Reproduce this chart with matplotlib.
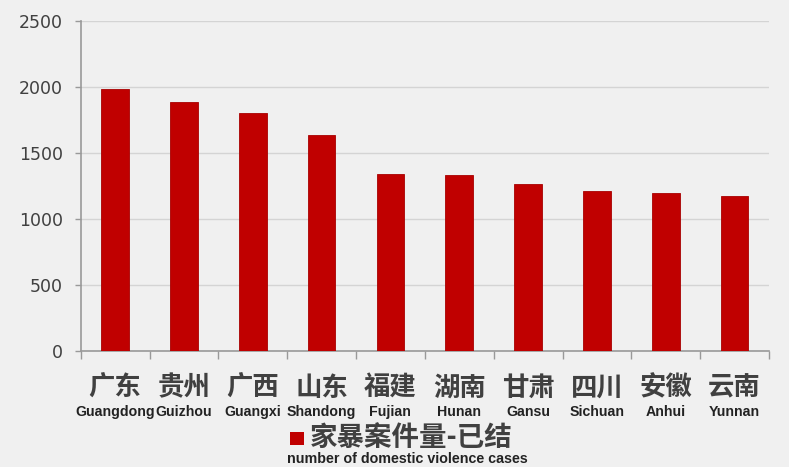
import matplotlib
matplotlib.use("Agg")
import matplotlib.pyplot as plt
import matplotlib.transforms as mtransforms
from matplotlib.patches import Rectangle

provinces_cn = ["广东", "贵州", "广西", "山东", "福建", "湖南", "甘肃", "四川", "安徽", "云南"]
provinces_en = ["Guangdong", "Guizhou", "Guangxi", "Shandong", "Fujian",
                "Hunan", "Gansu", "Sichuan", "Anhui", "Yunnan"]
cases = [1980, 1884, 1803, 1634, 1339, 1329, 1263, 1207, 1195, 1174]
y_ticks = [0, 500, 1000, 1500, 2000, 2500]
legend_cn = "家暴案件量-已结"
legend_en = "number of domestic violence cases"

BG = "#f0f0f0"
RED = "#c00000"
TXT = "#404040"

fig = plt.figure(figsize=(7.89, 4.67), dpi=100, facecolor=BG)
ax = fig.add_axes([80.7/789, 1-350.7/467, (769-80.7)/789, (350.7-20.7)/467])
ax.set_facecolor(BG)

x = list(range(len(cases)))
ax.bar(x, cases, width=0.4, color=RED, edgecolor="#a80000", linewidth=0.6, zorder=3)

ax.set_xlim(-0.5, len(cases)-0.5)
ax.set_ylim(0, 2500)
ax.set_yticks(y_ticks)
ax.set_yticklabels([str(v) for v in y_ticks], fontsize=12.5, color=TXT, family="DejaVu Sans")
ax.yaxis.grid(True, color="#d4d4d4", linewidth=1.0, zorder=0)
ax.set_axisbelow(True)

ax.set_xticks([i - 0.5 for i in range(len(cases)+1)])
ax.set_xticklabels([])
ax.tick_params(axis="x", length=6, width=1, color="#999999", direction="out")
ax.tick_params(axis="y", length=4, width=1, color="#999999", pad=9)

for s in ["top", "right"]:
    ax.spines[s].set_visible(False)
for s in ["left", "bottom"]:
    ax.spines[s].set_color("#999999")
    ax.spines[s].set_linewidth(1.2)

trans = mtransforms.blended_transform_factory(ax.transData, fig.transFigure)
for i, (cn, en) in enumerate(zip(provinces_cn, provinces_en)):
    ax.text(i, 1-388/467, cn, transform=trans, ha="center", va="center",
            fontsize=19, fontweight="bold", color=TXT,
            family=["Noto Sans CJK SC", "DejaVu Sans"])
    ax.text(i, 1-412/467, en, transform=trans, ha="center", va="center",
            fontsize=10.2, fontweight="bold", color="#222222",
            family=["Liberation Sans", "DejaVu Sans"])

fig.patches.append(Rectangle((290/789, 1-445/467), 14/789, 13/467,
                             transform=fig.transFigure, facecolor=RED,
                             edgecolor="none", figure=fig))
fig.text(310/789, 1-438/467, legend_cn, ha="left", va="center",
         fontsize=19.8, fontweight="bold", color=TXT,
         family=["Noto Sans CJK SC", "DejaVu Sans"])
fig.text(287/789, 1-459/467, legend_en, ha="left", va="center",
         fontsize=10.3, fontweight="bold", color="#222222",
         family=["Liberation Sans", "DejaVu Sans"])

fig.savefig("out.png", dpi=100, facecolor=BG)
